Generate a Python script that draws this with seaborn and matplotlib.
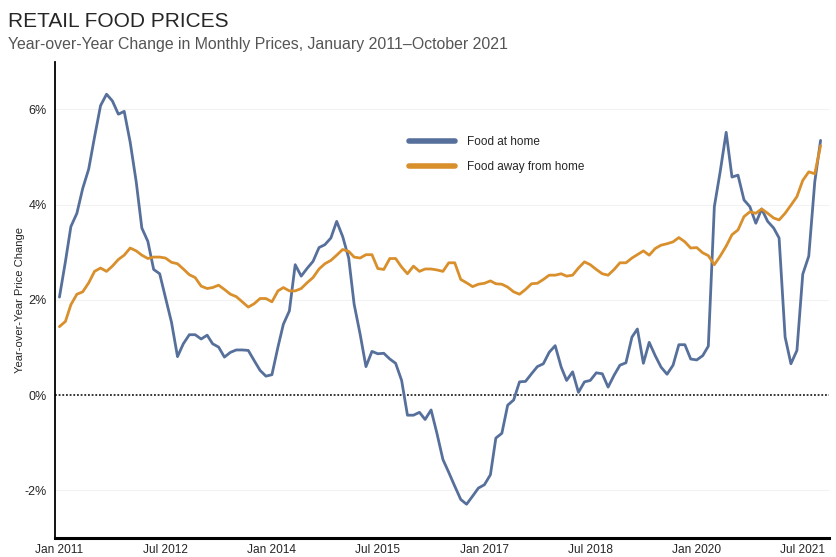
import seaborn as sns
import pandas as pd
import matplotlib.pyplot as plt
import matplotlib.dates as mdates

# ---------------- data ----------------
months = pd.date_range("2011-01-01", "2021-10-01", freq="MS")

food_at_home = [
    2.06, 2.81, 3.54, 3.82, 4.34, 4.75, 5.42, 6.08, 6.32, 6.18, 5.90, 5.96,
    5.31, 4.48, 3.51, 3.23, 2.64, 2.55, 2.05, 1.53, 0.81, 1.08, 1.27, 1.27,
    1.18, 1.26, 1.08, 1.01, 0.80, 0.90, 0.95, 0.95, 0.94, 0.73, 0.52, 0.40,
    0.43, 1.01, 1.49, 1.77, 2.74, 2.50, 2.66, 2.81, 3.10, 3.16, 3.30, 3.65,
    3.33, 2.88, 1.91, 1.28, 0.60, 0.92, 0.87, 0.88, 0.76, 0.67, 0.31, -0.42,
    -0.42, -0.36, -0.51, -0.31, -0.80, -1.35, -1.62, -1.91, -2.19, -2.29, -2.12, -1.95,
    -1.88, -1.67, -0.90, -0.80, -0.21, -0.10, 0.28, 0.29, 0.45, 0.60, 0.66, 0.90,
    1.04, 0.59, 0.31, 0.49, 0.06, 0.28, 0.31, 0.47, 0.45, 0.17, 0.42, 0.63,
    0.68, 1.22, 1.39, 0.67, 1.11, 0.83, 0.59, 0.44, 0.63, 1.06, 1.06, 0.76,
    0.74, 0.83, 1.03, 3.96, 4.69, 5.52, 4.58, 4.62, 4.10, 3.96, 3.61, 3.91,
    3.65, 3.51, 3.30, 1.22, 0.66, 0.94, 2.54, 2.92, 4.48, 5.35,
]

food_away = [
    1.44, 1.55, 1.90, 2.12, 2.17, 2.36, 2.60, 2.67, 2.60, 2.71, 2.85, 2.94,
    3.09, 3.03, 2.94, 2.87, 2.90, 2.90, 2.88, 2.79, 2.76, 2.65, 2.53, 2.47,
    2.29, 2.24, 2.26, 2.31, 2.22, 2.12, 2.07, 1.96, 1.85, 1.92, 2.03, 2.03,
    1.96, 2.19, 2.26, 2.19, 2.19, 2.24, 2.36, 2.47, 2.65, 2.76, 2.83, 2.94,
    3.06, 3.02, 2.90, 2.88, 2.95, 2.95, 2.66, 2.64, 2.87, 2.87, 2.69, 2.55,
    2.71, 2.60, 2.65, 2.65, 2.63, 2.60, 2.78, 2.78, 2.43, 2.36, 2.28, 2.33,
    2.35, 2.40, 2.34, 2.33, 2.27, 2.17, 2.12, 2.22, 2.34, 2.35, 2.43, 2.52,
    2.52, 2.55, 2.50, 2.52, 2.67, 2.80, 2.74, 2.64, 2.55, 2.52, 2.64, 2.78,
    2.78, 2.88, 2.95, 3.03, 2.94, 3.08, 3.15, 3.18, 3.22, 3.31, 3.22, 3.09,
    3.10, 2.99, 2.93, 2.74, 2.92, 3.13, 3.37, 3.47, 3.75, 3.85, 3.82, 3.91,
    3.82, 3.72, 3.68, 3.82, 3.99, 4.17, 4.51, 4.69, 4.65, 5.24,
]

series_names = ["Food at home", "Food away from home"]
colors = ["#56709b", "#d98f2b"]

df = pd.DataFrame({"date": months, series_names[0]: food_at_home, series_names[1]: food_away})
long_df = df.melt(id_vars="date", var_name="series", value_name="pct")

# ---------------- plot ----------------
sns.set_style("white")
plt.rcParams["font.family"] = ["Liberation Sans", "DejaVu Sans"]

fig = plt.figure(figsize=(8.36, 5.57), dpi=100)
ax = fig.add_axes([0.066, 0.034, 0.926, 0.855])

sns.lineplot(data=long_df, x="date", y="pct", hue="series", palette=colors,
             linewidth=2.0, ax=ax)

ax.axhline(0, color="black", linestyle=(0, (1.2, 1.2)), linewidth=1.1, zorder=1)
for v in [-2, 2, 4, 6]:
    ax.axhline(v, color="#f2f2f2", linewidth=0.8, zorder=0)

ax.set_ylim(-3, 7)
ax.set_xlim(pd.Timestamp("2010-12-10"), pd.Timestamp("2021-11-15"))
ax.set_yticks([-2, 0, 2, 4, 6])
ax.set_yticklabels(["-2%", "0%", "2%", "4%", "6%"], fontsize=9)

tick_dates = pd.to_datetime(["2011-01-01", "2012-07-01", "2014-01-01", "2015-07-01",
                             "2017-01-01", "2018-07-01", "2020-01-01", "2021-07-01"])
ax.set_xticks(tick_dates)
ax.xaxis.set_major_formatter(mdates.DateFormatter("%b %Y"))
for lab in ax.get_xticklabels():
    lab.set_fontsize(8.6)
ax.tick_params(axis="x", length=3, width=1, pad=1, direction="out")
ax.tick_params(axis="y", length=0, pad=6)

ax.set_xlabel("")
ax.set_ylabel("Year-over-Year Price Change", fontsize=8)
ax.yaxis.set_label_coords(-0.039, 0.5)

sns.despine(ax=ax)
ax.spines["left"].set_linewidth(1.3)
ax.spines["bottom"].set_linewidth(2.2)
ax.spines["left"].set_color("black")
ax.spines["bottom"].set_color("black")

leg = ax.legend(loc="upper left", bbox_to_anchor=(0.443, 0.866), frameon=False,
                fontsize=8.5, handlelength=3.9, handletextpad=1.0, labelspacing=1.1)
for line in leg.get_lines():
    line.set_linewidth(4)

fig.text(0.01, 0.962, "RETAIL FOOD PRICES", fontsize=15, va="center")
fig.text(0.01, 0.92, "Year-over-Year Change in Monthly Prices, January 2011\u2013October 2021",
         fontsize=11.4, color="#555555", va="center")

fig.savefig("out.png", dpi=100)
